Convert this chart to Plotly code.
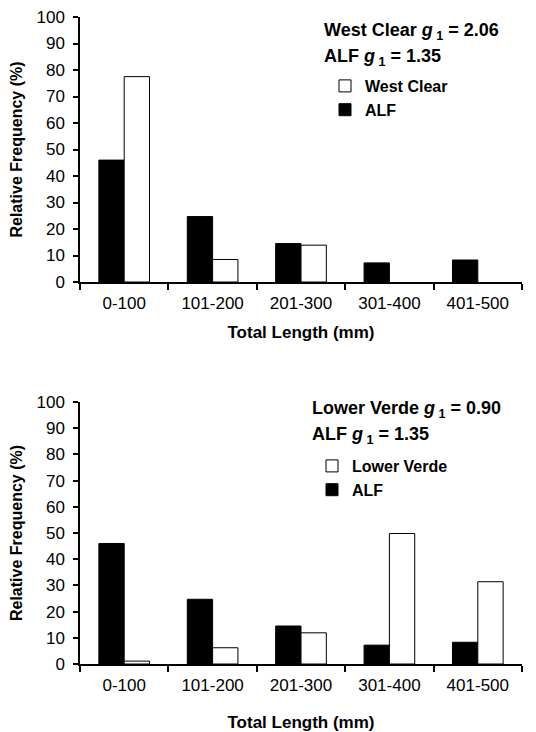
import plotly.graph_objects as go
from plotly.subplots import make_subplots

categories = ["0-100", "101-200", "201-300", "301-400", "401-500"]
alf = [46.0, 24.7, 14.5, 7.2, 8.3]
west_clear = [77.5, 8.5, 13.9, 0, 0]
lower_verde = [1.1, 6.2, 11.9, 49.8, 31.4]
y_ticks = list(range(0, 101, 10))

FONT = "Liberation Sans, Arial, sans-serif"
W, H = 536, 732
ML, MR, MT, MB = 80, 14, 10, 10
PH = H - MT - MB
PW = W - ML - MR

def py(p):
    return (H - MB - p) / PH

def px(p):
    return (p - ML) / PW

def outline(vals):
    return [1 if v > 0 else 0 for v in vals]

fig = make_subplots(rows=2, cols=1)

fig.add_trace(go.Bar(x=categories, y=alf, name="ALF",
                     marker=dict(color="black", line=dict(color="black", width=outline(alf))),
                     legend="legend", legendrank=2), row=1, col=1)
fig.add_trace(go.Bar(x=categories, y=west_clear, name="West Clear",
                     marker=dict(color="white", line=dict(color="black", width=outline(west_clear))),
                     legend="legend", legendrank=1), row=1, col=1)
fig.add_trace(go.Bar(x=categories, y=alf, name="ALF",
                     marker=dict(color="black", line=dict(color="black", width=outline(alf))),
                     legend="legend2", legendrank=2), row=2, col=1)
fig.add_trace(go.Bar(x=categories, y=lower_verde, name="Lower Verde",
                     marker=dict(color="white", line=dict(color="black", width=outline(lower_verde))),
                     legend="legend2", legendrank=1), row=2, col=1)

tickfont = dict(family=FONT, size=17, color="black")
xtitlefont = dict(family=FONT, size=17, color="black", weight="bold")
ytitlefont = dict(family=FONT, size=16, color="black", weight="bold")

for r in (1, 2):
    fig.update_xaxes(row=r, col=1, type="category", range=[-0.5, 4.5], showline=True, linecolor="black", linewidth=1.5,
                     ticks="outside", tickson="boundaries", ticklen=6, tickwidth=1.5, tickcolor="black",
                     tickfont=tickfont, showgrid=False, zeroline=False, ticklabelstandoff=5, automargin=False,
                     title=dict(text="Total Length (mm)", font=xtitlefont, standoff=14 if r == 1 else 22))
    fig.update_yaxes(row=r, col=1, range=[0, 100], tickvals=y_ticks, showline=True, linecolor="black", linewidth=1.5,
                     ticks="outside", ticklen=5, tickwidth=1.5, tickcolor="black", tickfont=tickfont,
                     showgrid=False, zeroline=False, ticklabelstandoff=5, automargin=False,
                     title=dict(text="Relative Frequency (%)", font=ytitlefont, standoff=10))

fig.update_layout(
    xaxis=dict(domain=[0, 1]), xaxis2=dict(domain=[0, 1]),
    yaxis=dict(domain=[py(282), py(17)]), yaxis2=dict(domain=[py(664), py(402)]),
)

ann_font = dict(family=FONT, size=18, color="black", weight="bold")
anns = [
    ("West Clear <i>g</i><sub> 1</sub> = 2.06", 322, 31.5),
    ("ALF <i>g</i><sub> 1</sub> = 1.35", 322, 57.5),
    ("Lower Verde <i>g</i><sub> 1</sub> = 0.90", 310, 409.3),
    ("ALF <i>g</i><sub> 1</sub> = 1.35", 310, 435),
]
for text, x, y in anns:
    fig.add_annotation(text=text, xref="paper", yref="paper", x=px(x), y=py(y), xanchor="left", yanchor="middle",
                       showarrow=False, font=ann_font)

legend_font = dict(family=FONT, size=16, color="black", weight="bold")
fig.update_layout(
    barmode="group", bargap=0.427, bargroupgap=0,
    width=W, height=H, margin=dict(l=ML, r=MR, t=MT, b=MB),
    paper_bgcolor="white", plot_bgcolor="white",
    showlegend=True,
    legend=dict(x=px(325), y=py(69), xanchor="left", yanchor="top", font=legend_font, bgcolor="rgba(0,0,0,0)",
                tracegroupgap=0, itemwidth=30),
    legend2=dict(x=px(312), y=py(449), xanchor="left", yanchor="top", font=legend_font, bgcolor="rgba(0,0,0,0)",
                 tracegroupgap=0, itemwidth=30),
)

fig.write_html("out.html")
